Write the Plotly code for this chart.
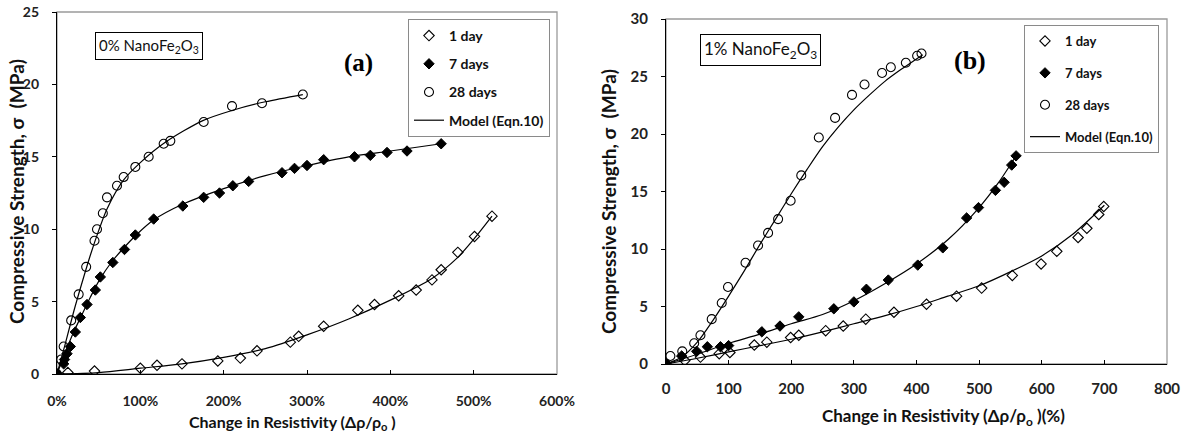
import plotly.graph_objects as go

W, H = 1186, 438

# ---------------- Panel (a): 0% NanoFe2O3 (x in %) ----------------
a_1d_x = [0, 13, 45, 100, 120, 150, 193, 220, 240, 280, 290, 320, 361, 381, 410, 431, 450, 461, 481, 501, 522]
a_1d_y = [0, 0.1, 0.2, 0.4, 0.6, 0.7, 0.9, 1.1, 1.6, 2.2, 2.6, 3.3, 4.4, 4.8, 5.4, 5.8, 6.5, 7.2, 8.4, 9.5, 10.9]

a_7d_x = [0, 8, 9, 12, 16, 22, 28, 36, 46, 52, 67, 81, 94, 116, 151, 176, 195, 211, 230, 270, 285, 300, 320, 357, 376, 396, 420, 461]
a_7d_y = [0, 0.7, 1.0, 1.4, 1.9, 2.9, 3.9, 4.8, 5.8, 6.7, 7.7, 8.6, 9.6, 10.7, 11.6, 12.2, 12.5, 13.0, 13.3, 13.9, 14.2, 14.4, 14.8, 15.0, 15.1, 15.3, 15.4, 15.9]

a_28d_x = [0, 5, 8, 17, 26, 35, 45, 48, 55, 60, 72, 80, 94, 110, 128, 136, 176, 210, 246, 295]
a_28d_y = [0, 1.0, 1.9, 3.7, 5.5, 7.4, 9.2, 10.0, 11.1, 12.2, 13.0, 13.6, 14.3, 15.0, 15.9, 16.1, 17.4, 18.5, 18.7, 19.3]

a_m1_x = [0, 50, 100, 150, 200, 250, 300, 350, 400, 450, 480, 500, 522]
a_m1_y = [0, 0.1, 0.4, 0.7, 1.15, 1.75, 2.7, 3.8, 5.1, 6.6, 8.0, 9.3, 10.9]
a_m7_x = [0, 10, 20, 30, 40, 50, 65, 80, 95, 115, 150, 200, 250, 300, 350, 400, 461]
a_m7_y = [0, 1.5, 2.9, 4.1, 5.3, 6.4, 7.7, 8.7, 9.6, 10.6, 11.7, 12.8, 13.7, 14.4, 15.0, 15.4, 15.9]
a_m28_x = [0, 10, 20, 30, 40, 50, 60, 80, 100, 130, 175, 210, 250, 295]
a_m28_y = [0, 2.1, 4.3, 6.3, 8.2, 9.9, 11.4, 13.4, 14.6, 16.0, 17.5, 18.2, 18.8, 19.3]

# ---------------- Panel (b): 1% NanoFe2O3 ----------------
b_1d_x = [0, 30, 55, 85, 102, 141, 161, 199, 212, 255, 283, 319, 364, 416, 464, 504, 553, 599, 624, 658, 672, 691, 699]
b_1d_y = [0, 0.3, 0.6, 0.9, 1.0, 1.65, 1.9, 2.3, 2.5, 2.9, 3.3, 3.9, 4.5, 5.2, 5.9, 6.6, 7.7, 8.7, 9.8, 11.0, 11.8, 13.0, 13.7]

b_7d_x = [0, 25, 49, 66, 87, 100, 153, 182, 212, 268, 300, 320, 355, 402, 442, 480, 499, 526, 540, 552, 559]
b_7d_y = [0, 0.7, 1.1, 1.5, 1.5, 1.6, 2.8, 3.3, 4.1, 4.8, 5.4, 6.5, 7.3, 8.6, 10.1, 12.7, 13.6, 15.1, 15.8, 17.3, 18.1]

b_28d_x = [0, 7, 26, 45, 55, 73, 89, 99, 127, 147, 163, 179, 199, 216, 244, 270, 297, 317, 345, 359, 383, 401, 408]
b_28d_y = [0, 0.7, 1.1, 1.8, 2.5, 3.9, 5.3, 6.7, 8.8, 10.3, 11.4, 12.6, 14.2, 16.4, 19.7, 21.4, 23.4, 24.3, 25.3, 25.8, 26.2, 26.8, 27.0]

b_m1_x = [0, 50, 100, 150, 200, 250, 300, 350, 400, 450, 500, 553, 600, 650, 700]
b_m1_y = [0, 0.5, 1.05, 1.6, 2.15, 2.8, 3.5, 4.2, 5.0, 5.9, 6.8, 8.1, 9.4, 11.3, 13.8]
b_m7_x = [0, 50, 100, 150, 200, 250, 300, 350, 400, 450, 500, 530, 558]
b_m7_y = [0, 0.85, 1.8, 2.6, 3.5, 4.3, 5.5, 7.0, 8.7, 10.8, 13.6, 15.7, 18.0]
b_m28_x = [0, 25, 50, 75, 100, 125, 150, 175, 200, 225, 250, 275, 300, 325, 350, 375, 410]
b_m28_y = [0, 0.6, 1.9, 3.8, 5.9, 8.1, 10.4, 12.6, 14.8, 16.9, 18.9, 20.6, 22.1, 23.4, 24.6, 25.6, 26.9]

x_a_ticks = [0, 100, 200, 300, 400, 500, 600]
x_a_labels = ["0%", "100%", "200%", "300%", "400%", "500%", "600%"]
x_b_ticks = [0, 100, 200, 300, 400, 500, 600, 700, 800]

FONT = "Lato"
fig = go.Figure()

open_diamond = dict(symbol="diamond-open", size=8, color="black", line=dict(width=1.1, color="black"))
fill_diamond = dict(symbol="diamond", size=8, color="black", line=dict(width=1, color="black"))
open_circle = dict(symbol="circle-open", size=9, color="black", line=dict(width=1.1, color="black"))
line_style = dict(color="black", width=1.2, shape="spline", smoothing=0.8)

def add_panel(xa, ya, leg, d1, d7, d28, m1, m7, m28):
    fig.add_trace(go.Scatter(x=m1[0], y=m1[1], mode="lines", line=line_style, xaxis=xa, yaxis=ya,
                             showlegend=False, legend=leg, hoverinfo="skip"))
    fig.add_trace(go.Scatter(x=m7[0], y=m7[1], mode="lines", line=line_style, xaxis=xa, yaxis=ya,
                             showlegend=False, legend=leg, hoverinfo="skip"))
    fig.add_trace(go.Scatter(x=m28[0], y=m28[1], mode="lines", line=line_style, xaxis=xa, yaxis=ya,
                             name="Model (Eqn.10)", legendgroup=leg + "m", legendrank=4, legend=leg))
    fig.add_trace(go.Scatter(x=d1[0], y=d1[1], mode="markers", marker=open_diamond, xaxis=xa, yaxis=ya,
                             name="1 day", legendgroup=leg + "1", legendrank=1, legend=leg))
    fig.add_trace(go.Scatter(x=d7[0], y=d7[1], mode="markers", marker=fill_diamond, xaxis=xa, yaxis=ya,
                             name="7 days", legendgroup=leg + "7", legendrank=2, legend=leg))
    fig.add_trace(go.Scatter(x=d28[0], y=d28[1], mode="markers", marker=open_circle, xaxis=xa, yaxis=ya,
                             name="28 days", legendgroup=leg + "28", legendrank=3, legend=leg))

add_panel("x", "y", "legend", (a_1d_x, a_1d_y), (a_7d_x, a_7d_y), (a_28d_x, a_28d_y),
          (a_m1_x, a_m1_y), (a_m7_x, a_m7_y), (a_m28_x, a_m28_y))
add_panel("x2", "y2", "legend2", (b_1d_x, b_1d_y), (b_7d_x, b_7d_y), (b_28d_x, b_28d_y),
          (b_m1_x, b_m1_y), (b_m7_x, b_m7_y), (b_m28_x, b_m28_y))

def px_x(p):
    return p / W

def px_y(p):
    return 1 - p / H

tickfont_a = dict(family=FONT, size=14, color="#222", weight="bold")
tickfont_b = dict(family=FONT, size=15, color="#222", weight="bold")
axis_common = dict(showgrid=False, zeroline=False, showline=True, linecolor="black", linewidth=1.3,
                   tickcolor="black", ticklen=4, tickwidth=1, automargin=False)

fig.update_layout(
    width=W, height=H, margin=dict(l=0, r=0, t=0, b=0, autoexpand=False),
    paper_bgcolor="white", plot_bgcolor="white",
    xaxis=dict(domain=[px_x(57), px_x(557)], range=[0, 600], tickvals=x_a_ticks, ticktext=x_a_labels,
               ticks="inside", anchor="y", tickfont=tickfont_a, ticklabelstandoff=14, **axis_common),
    yaxis=dict(domain=[px_y(374), px_y(12)], range=[0, 25], dtick=5, ticks="outside", anchor="x",
               tickfont=tickfont_a, ticklabelstandoff=10, **axis_common),
    xaxis2=dict(domain=[px_x(666), px_x(1167)], range=[0, 800], tickvals=x_b_ticks,
                ticks="inside", anchor="y2", tickfont=tickfont_b, ticklabelstandoff=11, **axis_common),
    yaxis2=dict(domain=[px_y(364), px_y(19)], range=[0, 30], dtick=5, ticks="outside", anchor="x2",
                tickfont=tickfont_b, ticklabelstandoff=10, **axis_common),
    legend=dict(x=px_x(550), y=px_y(19), xanchor="right", yanchor="top", bgcolor="white",
                bordercolor="#8a8a8a", borderwidth=1, traceorder="grouped", tracegroupgap=7,
                font=dict(family=FONT, size=14, color="#111", weight="bold"), itemwidth=30),
    legend2=dict(x=px_x(1159), y=px_y(25), xanchor="right", yanchor="top", bgcolor="white",
                 bordercolor="#8a8a8a", borderwidth=1, traceorder="grouped", tracegroupgap=12,
                 font=dict(family=FONT, size=13, color="#111", weight="bold"), itemwidth=30),
)

# light grey frame (top/right) of each plot area
for xr, yr in (("x domain", "y domain"), ("x2 domain", "y2 domain")):
    fig.add_shape(type="rect", xref=xr, yref=yr, x0=0, x1=1, y0=0, y1=1,
                  line=dict(color="#9a9a9a", width=1.3), layer="below")

ytitle_font = dict(family=FONT, size=19, color="#111", weight="bold")
ann = [
    dict(text="Compressive Strength, σ  (MPa)", x=px_x(16), y=px_y(192), textangle=-90, font=ytitle_font),
    dict(text="Change in Resistivity (Δρ/ρ<sub>o</sub> )", x=px_x(292), y=px_y(422),
         font=dict(family=FONT, size=16, color="#111", weight="bold")),
    dict(text="Compressive Strength, σ  (MPa)", x=px_x(609), y=px_y(202), textangle=-90, font=ytitle_font),
    dict(text="Change in Resistivity (Δρ/ρ<sub>o</sub> )(%)", x=px_x(943), y=px_y(417),
         font=dict(family=FONT, size=17, color="#111", weight="bold")),
    dict(text="0% NanoFe<sub>2</sub>O<sub>3</sub>", x=px_x(148.5), y=px_y(45.5),
         font=dict(family=FONT, size=15, color="#111"), bordercolor="black", borderwidth=1, borderpad=3,
         bgcolor="white"),
    dict(text="1% NanoFe<sub>2</sub>O<sub>3</sub>", x=px_x(760.5), y=px_y(50),
         font=dict(family=FONT, size=17, color="#111"), bordercolor="black", borderwidth=1, borderpad=3,
         bgcolor="white"),
    dict(text="<b>(a)</b>", x=px_x(358), y=px_y(63), font=dict(family="Liberation Serif", size=25, color="black")),
    dict(text="<b>(b)</b>", x=px_x(970), y=px_y(60), font=dict(family="Liberation Serif", size=26, color="black")),
]
for a in ann:
    fig.add_annotation(xref="paper", yref="paper", showarrow=False, xanchor="center", yanchor="middle", **a)

fig.write_html("out.html")
